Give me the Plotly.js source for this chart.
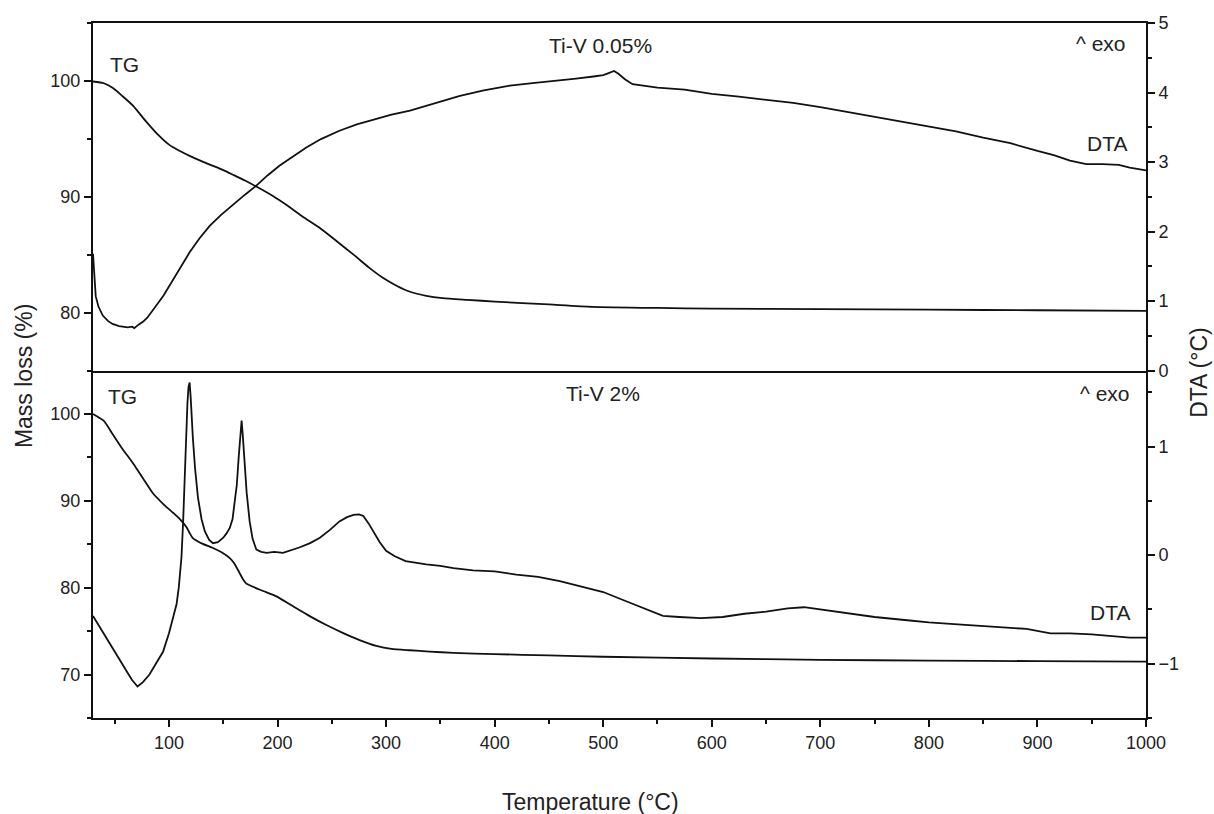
<!DOCTYPE html>
<html>
<head>
<meta charset="utf-8">
<script src="https://cdn.plot.ly/plotly-3.0.1.min.js"></script>
<style>html,body{margin:0;padding:0;background:#fff;}#chart{width:1214px;height:814px;}</style>
</head>
<body>
<div id="chart"></div>
<script>
// ---- Data (temperature in °C) ----
// Top panel: Ti-V 0.05%
var tgTopT = [30,40,48,57,67,78,91,100,110,122,137,150,159,170,180,195,208,223,239,254,270,284,297,310,322,337,352,375,400,450,490,550,600,700,800,900,1000];
var tgTopV = [99.95,99.8,99.4,98.7,97.85,96.6,95.25,94.5,93.95,93.4,92.8,92.3,91.9,91.4,90.9,90.1,89.3,88.3,87.3,86.2,85.0,83.9,83.0,82.3,81.8,81.45,81.25,81.1,80.95,80.7,80.5,80.4,80.35,80.3,80.25,80.2,80.15];

var dtaTopT = [30,31,32.5,35,39,44,48,54,58,62,66,68,72,76,80,85,90,95,100.6,110,119,128,137.5,148,159,170,180.5,191,202,214,226.5,240,257,273,291,305,322,345,368,390,414,437,460,475,491,500,505,510,514,520,527,535,550,575,600,625,650,675,700,725,750,775,800,825,850,875,900,915,930,945,960,975,985,1000];
var dtaTopV = [1.68,1.35,1.07,0.92,0.79,0.71,0.67,0.64,0.63,0.62,0.63,0.61,0.66,0.70,0.76,0.86,0.97,1.08,1.22,1.46,1.70,1.90,2.08,2.24,2.39,2.53,2.66,2.81,2.95,3.08,3.21,3.33,3.45,3.54,3.62,3.68,3.74,3.85,3.95,4.03,4.10,4.14,4.17,4.20,4.23,4.25,4.28,4.31,4.27,4.19,4.12,4.10,4.07,4.04,3.98,3.94,3.90,3.85,3.79,3.72,3.65,3.58,3.51,3.44,3.35,3.27,3.16,3.10,3.02,2.97,2.97,2.96,2.92,2.88];

// Bottom panel: Ti-V 2%
var tgBotT = [30,40,48,57,67,76,85,95,104,110,116,119,122,130,140,148,156,160,165,168,171,185,199,215,230,245,260,275,291,305,322,340,362,400,450,500,600,700,800,900,1000];
var tgBotV = [100.0,99.2,97.7,96.0,94.3,92.6,90.9,89.6,88.6,87.9,87.0,86.3,85.7,85.1,84.6,84.1,83.4,82.8,81.7,81.0,80.5,79.7,79.0,77.8,76.7,75.7,74.8,74.0,73.3,72.95,72.8,72.65,72.5,72.35,72.2,72.05,71.85,71.7,71.6,71.55,71.5];

var dtaBotT = [30,40,48,55,61,66,71,76,82,88,94.5,100,104,107,109,110.5,111.5,113,114.5,116,117,118,119,120,121,122,124,126.7,130,133,137,140.5,145,150,153,156,158.5,160.5,162.5,164.2,165.5,166.9,168,169.7,171.5,174.3,177,180.5,185,190,197,205,212,220,230,239,248,257,264,270,275,279,284,288,294,300,308,318,327,337,350,362,380,400,420,440,460,480,500,520,540,555,570,590,610,630,650,670,685,700,720,750,780,800,830,860,890,912,930,950,970,985,1000];
var dtaBotV = [-0.56,-0.72,-0.86,-0.97,-1.07,-1.15,-1.21,-1.17,-1.10,-1.00,-0.89,-0.72,-0.58,-0.45,-0.30,-0.12,-0.02,0.30,0.78,1.15,1.40,1.55,1.59,1.45,1.25,1.08,0.80,0.53,0.33,0.22,0.14,0.11,0.12,0.16,0.20,0.25,0.33,0.47,0.65,0.90,1.08,1.24,1.10,0.84,0.58,0.31,0.15,0.05,0.03,0.02,0.03,0.02,0.04,0.07,0.11,0.16,0.23,0.31,0.35,0.37,0.375,0.36,0.29,0.22,0.12,0.04,-0.01,-0.055,-0.07,-0.086,-0.10,-0.12,-0.14,-0.15,-0.18,-0.20,-0.24,-0.29,-0.34,-0.42,-0.50,-0.56,-0.57,-0.58,-0.57,-0.54,-0.52,-0.49,-0.48,-0.50,-0.53,-0.57,-0.60,-0.62,-0.64,-0.66,-0.68,-0.72,-0.72,-0.73,-0.75,-0.76,-0.76];

// ---- Labels ----
var xTitle = 'Temperature (°C)';
var yLeftTitle = 'Mass loss (%)';
var yRightTitle = 'DTA (°C)';
var topLabel = 'Ti-V 0.05%';
var botLabel = 'Ti-V 2%';

var ink = '#111';
var lineStyle = {color: ink, width: 1.8};

var traces = [
  {x: tgTopT, y: tgTopV, xaxis: 'x2', yaxis: 'y3', mode: 'lines', line: Object.assign({shape: 'spline', smoothing: 0.6}, lineStyle), name: 'TG 0.05%'},
  {x: dtaTopT, y: dtaTopV, xaxis: 'x2', yaxis: 'y4', mode: 'lines', line: Object.assign({shape: 'linear'}, lineStyle), name: 'DTA 0.05%'},
  {x: tgBotT, y: tgBotV, xaxis: 'x', yaxis: 'y', mode: 'lines', line: Object.assign({shape: 'spline', smoothing: 0.5}, lineStyle), name: 'TG 2%'},
  {x: dtaBotT, y: dtaBotV, xaxis: 'x', yaxis: 'y2', mode: 'lines', line: Object.assign({shape: 'linear'}, lineStyle), name: 'DTA 2%'}
];

function axisBase(extra) {
  var a = {
    showline: true, linecolor: ink, linewidth: 2,
    ticks: 'outside', ticklen: 7, tickwidth: 2, tickcolor: ink,
    showgrid: false, zeroline: false,
    tickfont: {size: 18, color: '#222'}
  };
  return Object.assign(a, extra);
}
function minor(d) {
  return {dtick: d, ticks: 'outside', ticklen: 4, tickwidth: 2, tickcolor: ink, showgrid: false};
}

var annFont = {size: 21, color: '#222'};
var titleFont = {size: 23, color: '#222'};

var layout = {
  width: 1214, height: 814,
  margin: {l: 93, r: 68, t: 23, b: 96},
  paper_bgcolor: '#fff', plot_bgcolor: '#fff',
  showlegend: false,
  font: {family: 'Liberation Sans, Arial, sans-serif', size: 18, color: '#222'},
  xaxis: axisBase({domain: [0, 1], anchor: 'y', range: [30, 1000], tick0: 0, dtick: 100, mirror: false, minor: minor(50)}),
  xaxis2: {domain: [0, 1], anchor: 'y3', matches: 'x', range: [30, 1000], showticklabels: false, ticks: '', showline: true, linecolor: ink, linewidth: 2, mirror: true, showgrid: false, zeroline: false},
  yaxis: axisBase({domain: [0, 0.5], anchor: 'x', side: 'left', range: [65, 105], tick0: 0, dtick: 10, minor: minor(5)}),
  yaxis2: axisBase({overlaying: 'y', anchor: 'x', side: 'right', range: [-1.5, 1.7], tick0: 0, dtick: 1, minor: minor(0.5)}),
  yaxis3: axisBase({domain: [0.5, 1], anchor: 'x2', side: 'left', range: [75, 105], tick0: 0, dtick: 10, minor: minor(5)}),
  yaxis4: axisBase({overlaying: 'y3', anchor: 'x2', side: 'right', range: [0, 5], tick0: 0, dtick: 1, minor: minor(0.5)}),
  annotations: [
    {xref: 'paper', yref: 'paper', x: 0.0142, y: 0.9403, xanchor: 'left', yanchor: 'middle', text: 'TG', showarrow: false, font: annFont},
    {xref: 'paper', yref: 'paper', x: 0.4815, y: 0.9683, xanchor: 'center', yanchor: 'middle', text: topLabel, showarrow: false, font: annFont},
    {xref: 'paper', yref: 'paper', x: 0.9829, y: 0.9712, xanchor: 'right', yanchor: 'middle', text: '^ exo', showarrow: false, font: annFont},
    {xref: 'paper', yref: 'paper', x: 0.9840, y: 0.8273, xanchor: 'right', yanchor: 'middle', text: 'DTA', showarrow: false, font: annFont},
    {xref: 'paper', yref: 'paper', x: 0.0123, y: 0.4633, xanchor: 'left', yanchor: 'middle', text: 'TG', showarrow: false, font: annFont},
    {xref: 'paper', yref: 'paper', x: 0.4843, y: 0.4676, xanchor: 'center', yanchor: 'middle', text: botLabel, showarrow: false, font: annFont},
    {xref: 'paper', yref: 'paper', x: 0.9867, y: 0.4676, xanchor: 'right', yanchor: 'middle', text: '^ exo', showarrow: false, font: annFont},
    {xref: 'paper', yref: 'paper', x: 0.9867, y: 0.1525, xanchor: 'right', yanchor: 'middle', text: 'DTA', showarrow: false, font: annFont},
    {xref: 'paper', yref: 'paper', x: -0.0655, y: 0.492, xanchor: 'center', yanchor: 'middle', text: yLeftTitle, textangle: -90, showarrow: false, font: titleFont},
    {xref: 'paper', yref: 'paper', x: 1.0503, y: 0.498, xanchor: 'center', yanchor: 'middle', text: yRightTitle, textangle: -90, showarrow: false, font: titleFont},
    {xref: 'paper', yref: 'paper', x: 0.472, y: -0.1209, xanchor: 'center', yanchor: 'middle', text: xTitle, showarrow: false, font: titleFont}
  ]
};

Plotly.newPlot('chart', traces, layout, {staticPlot: true, displayModeBar: false});
</script>
</body>
</html>
